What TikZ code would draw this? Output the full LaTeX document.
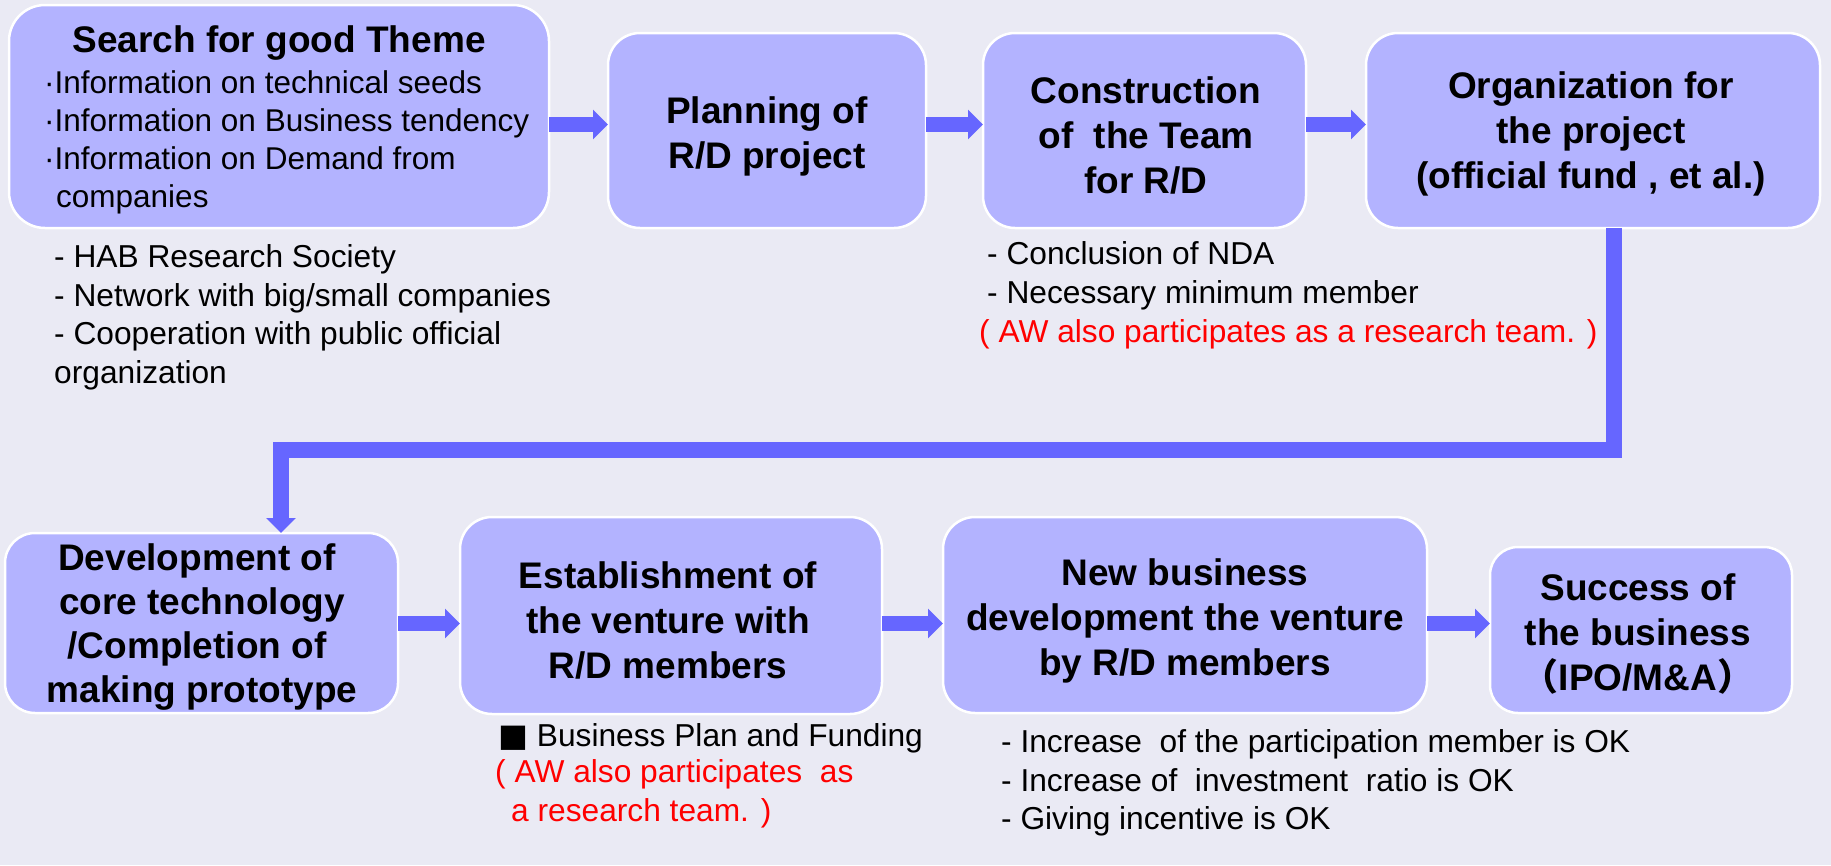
\documentclass[tikz,border=0pt]{standalone}
\usepackage{fontspec}
\setmainfont{Liberation Sans}
\newfontfamily\dejavu{DejaVu Sans}
\newfontfamily\cjkfont{Noto Sans CJK JP}
\usetikzlibrary{arrows.meta}
\definecolor{bgc}{HTML}{EAEAF4}
\definecolor{boxc}{HTML}{B3B3FF}
\definecolor{arrc}{HTML}{6666FF}
\definecolor{redc}{HTML}{FF0000}
\tikzset{
  box/.style={draw=white, line width=2.5pt, fill=boxc, rounded corners=#1,
    inner sep=0pt, outer sep=0pt},
  box/.default=30pt,
  title/.style={font=\fontsize{37}{45}\selectfont\bfseries, align=center, inner sep=0pt},
  bodytxt/.style={font=\fontsize{31.5}{38}\selectfont, align=left, inner sep=0pt, anchor=west},
  note/.style={font=\fontsize{31.7}{38.5}\selectfont, align=left, inner sep=0pt, anchor=west},
  flow/.style={draw=arrc, line width=15pt, line join=miter,
    -{Triangle[length=15pt 0 0, width=29pt 0 0]}},
}
\begin{document}
\begin{tikzpicture}[x=1pt,y=-1pt]
\path[use as bounding box, fill=bgc] (0,0) rectangle (1831,865);

% boxes
\node[box=36pt, minimum width=540pt, minimum height=223pt] (b1) at (279,116.5) {};
\node[box=32pt, minimum width=318pt, minimum height=195pt] (b2) at (767,130.5) {};
\node[box=32pt, minimum width=323pt, minimum height=195pt] (b3) at (1144.5,130.5) {};
\node[box=32pt, minimum width=454pt, minimum height=195pt] (b4) at (1593,130.5) {};
\node[box=30pt, minimum width=393pt, minimum height=180pt] (b5) at (201.5,623) {};
\node[box=32pt, minimum width=422pt, minimum height=197pt] (b6) at (671,615.5) {};
\node[box=32pt, minimum width=484pt, minimum height=196pt] (b7) at (1185,615) {};
\node[box=28pt, minimum width=302pt, minimum height=166pt] (b8) at (1641,630) {};

% texts in boxes
\node[title] (t1) at (279,43) {Search for good Theme};
\node[bodytxt] (t1b) at (44,142.5) {·Information on technical seeds\\·Information on Business tendency\\·Information on Demand from\\\hspace*{12pt}companies};
\node[title] (t2) at (767,136) {Planning of\\R/D project};
\node[title] (t3) at (1146,135) {Construction\\of\ \ the Team\\for R/D};
\node[title] (t4) at (1591,134) {Organization for\\the project\\(official fund , et al.)};
\node[title, font=\fontsize{37}{44.3}\selectfont\bfseries] (t5) at (202,627) {Development of\kern10pt\\core technology\\/Completion of\kern10pt\\making prototype};
\node[title] (t6) at (668,620) {Establishment of\\the venture with\\R/D members};
\node[title] (t7) at (1185,621) {New business\\development the venture\\by R/D members};
\node[title] (t8) at (1638,634) {Success of\\the business\\{\cjkfont （}IPO/M\&A{\cjkfont ）}};

% notes
\node[note] (n1) at (54,317.5) {- HAB Research Society\\- Network with big/small companies\\- Cooperation with public official\\organization};
\node[note] (n3) at (987,276) {- Conclusion of NDA\\- Necessary minimum member};
\node[note, text=redc] (n3r) at (979,334) {( AW also participates as a research team. )};
\node[note] (n6) at (498,738) {{\dejavu ■} Business Plan and Funding};
\node[note, text=redc] (n6r) at (495,794) {( AW also participates\ \ as\\\hspace*{16pt}a research team. )};
\node[note] (n7) at (1001,783) {- Increase\ \ of the participation member is OK\\- Increase of\ \ investment\ \ ratio is OK\\- Giving incentive is OK};

% helper coordinates
\coordinate (rowA) at (0,124.5);
\coordinate (rowB) at (0,623.5);
\coordinate (k1) at (1614,450);
\coordinate (k2) at (281,450);

% connectors
\draw[flow] (b1.east |- rowA) -- (b2.west |- rowA);
\draw[flow] (b2.east |- rowA) -- (b3.west |- rowA);
\draw[flow] (b3.east |- rowA) -- (b4.west |- rowA);
\draw[flow, line width=15.5pt] (b4.south -| k1) -- (k1) -- (k2) -- (b5.north -| k2);
\draw[flow] (b5.east |- rowB) -- (b6.west |- rowB);
\draw[flow] (b6.east |- rowB) -- (b7.west |- rowB);
\draw[flow] (b7.east |- rowB) -- (b8.west |- rowB);
\end{tikzpicture}
\end{document}
